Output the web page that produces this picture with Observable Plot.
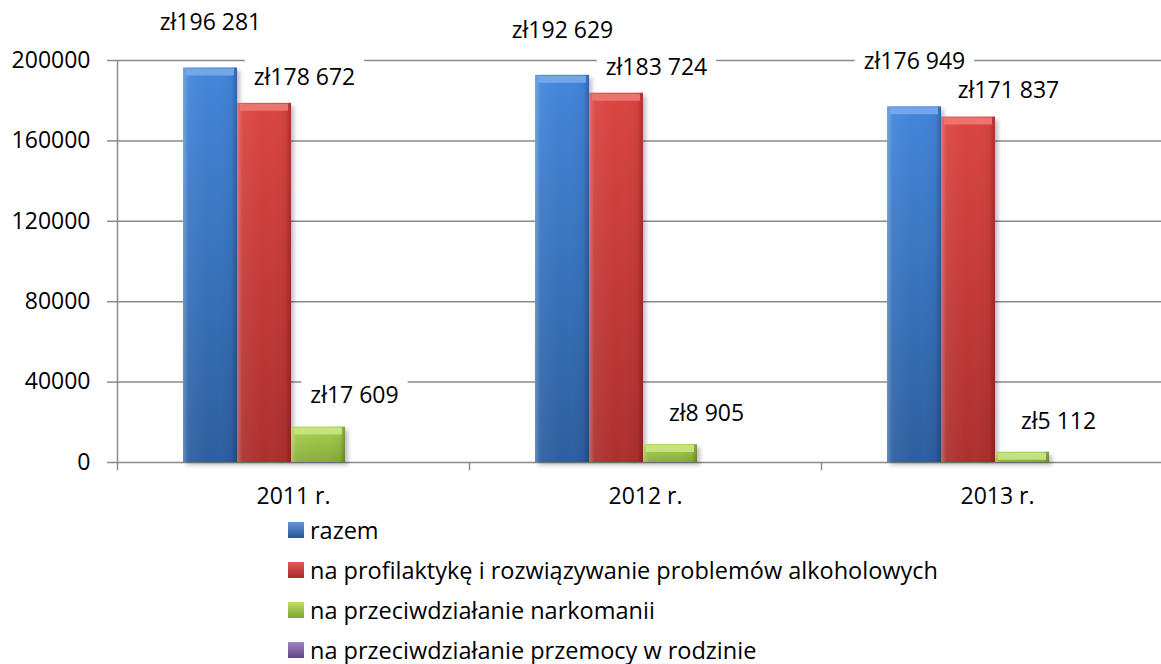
<!DOCTYPE html>
<html><head><meta charset="utf-8">
<script src="https://cdn.jsdelivr.net/npm/d3@7"></script>
<script src="https://cdn.jsdelivr.net/npm/@observablehq/plot@0.6"></script>
<style>
html,body{margin:0;padding:0;background:#fff;overflow:hidden;}
body{font-family:"Open Sans",sans-serif;color:#000;width:1161px;height:664px;position:relative;}
#legend{position:absolute;left:288px;top:510px;font-size:23.5px;}
.li{height:40px;display:flex;align-items:center;white-space:nowrap;}
.sw{width:16px;height:16px;margin-right:6px;box-sizing:border-box;}
</style></head><body>
<svg width="0" height="0" style="position:absolute">
  <defs>
    <linearGradient id="grad0" x1="0" y1="0" x2="0" y2="1">
      <stop offset="0" stop-color="#4386da"/><stop offset="1" stop-color="#2d5f9f"/>
    </linearGradient>
    <linearGradient id="grad1" x1="0" y1="0" x2="0" y2="1">
      <stop offset="0" stop-color="#db4541"/><stop offset="1" stop-color="#ad302e"/>
    </linearGradient>
    <linearGradient id="grad2" x1="0" y1="0" x2="0" y2="1">
      <stop offset="0" stop-color="#a9d253"/><stop offset="1" stop-color="#88ad38"/>
    </linearGradient>
    <linearGradient id="grad3" x1="0" y1="0" x2="0" y2="1">
      <stop offset="0" stop-color="#9175b8"/><stop offset="1" stop-color="#664e8a"/>
    </linearGradient>
    <linearGradient id="shade" x1="0" y1="0" x2="1" y2="0">
      <stop offset="0" stop-color="#fff" stop-opacity="0.28"/>
      <stop offset="0.1" stop-color="#fff" stop-opacity="0.06"/>
      <stop offset="0.5" stop-color="#fff" stop-opacity="0"/>
      <stop offset="0.9" stop-color="#000" stop-opacity="0.04"/>
      <stop offset="1" stop-color="#000" stop-opacity="0.25"/>
    </linearGradient>
  </defs>
</svg>
<div id="chart"></div>
<div id="legend"></div>
<script>
// ---- data ----
const years = ["2011 r.", "2012 r.", "2013 r."];
const series = [
  "razem",
  "na profilaktykę i rozwiązywanie problemów alkoholowych",
  "na przeciwdziałanie narkomanii",
  "na przeciwdziałanie przemocy w rodzinie"
];
const razem = [196281, 192629, 176949];
const alkohol = [178672, 183724, 171837];
const narkomania = [17609, 8905, 5112];
const przemoc = [null, null, null];
const yTicks = [0, 40000, 80000, 120000, 160000, 200000];

// ---- styling ----
const bevel = ["#78aaea", "#ee7873", "#c8e683", "#a990cc"];
const legendCss = [
  "linear-gradient(#5d97e0,#2a5894)",
  "linear-gradient(#e25a55,#a52c2a)",
  "linear-gradient(#bde06a,#7fa332)",
  "linear-gradient(#a184c8,#5f4782)"
];
const gridColor = "#8a8a8a";
const ML = 117, BAR_OFFSET = 66, BAR_W = 54;

const valuesBySeries = [razem, alkohol, narkomania, przemoc];
const rows = [];
years.forEach((year, i) => valuesBySeries.forEach((vals, s) => {
  if (vals[i] != null) rows.push({year, series: series[s], s, value: vals[i]});
}));
const fmt = v => "zł" + d3.format(",")(v).replace(/,/g, " ");
const labelOffsets = [{dx: 0, dy: -45}, {dx: 40, dy: -26}, {dx: 36, dy: -31}];

const plot = Plot.plot({
  width: 1161, height: 512,
  marginLeft: ML, marginRight: -12, marginTop: 60, marginBottom: 50,
  style: {fontFamily: '"Open Sans", sans-serif', fontSize: "23px", color: "black", background: "white"},
  fx: {domain: years, padding: 0, label: null},
  x: {domain: series, range: [ML + BAR_OFFSET, ML + BAR_OFFSET + 4 * BAR_W], padding: 0, axis: null},
  y: {domain: [0, 200000], label: null},
  color: {type: "identity"},
  marks: [
    Plot.ruleY(yTicks, {stroke: gridColor, strokeWidth: 1.5}),
    Plot.ruleX(years, {
      fx: d => d, x: () => series[0],
      y1: (d, i) => i === 0 ? yTicks[yTicks.length - 1] : 0, y2: () => 0,
      dx: -(BAR_OFFSET + BAR_W / 2), insetBottom: -8,
      stroke: gridColor, strokeWidth: 1.5
    }),
    Plot.axisY({ticks: yTicks, tickSize: 10, tickPadding: 17, tickFormat: d => String(d),
      stroke: gridColor, strokeWidth: 1.5, label: null, fontSize: 23}),
    Plot.axisFx({anchor: "bottom", tickSize: 0, tickPadding: 25, label: null, fontSize: 23}),
    Plot.barY(rows, {fx: "year", x: "series", y: "value", fill: d => `url(#grad${d.s})`}),
    Plot.barY(rows, {fx: "year", x: "series", y: "value", fill: "url(#shade)"}),
    Plot.tickY(rows, {fx: "year", x: "series", y: "value", stroke: d => bevel[d.s],
      strokeWidth: 7, dy: 4, insetLeft: 3, insetRight: 3, strokeOpacity: 0.9}),
    ...labelOffsets.map((o, s) => Plot.text(rows.filter(r => r.s === s), {
      fx: "year", x: "series", y: "value", text: d => fmt(d.value),
      dx: o.dx, dy: o.dy, fontSize: 23, fill: "black"
    }))
  ]
});
document.getElementById("chart").append(plot);

// white boxes behind value labels (like the chart's label fill)
const ns = "http://www.w3.org/2000/svg";
plot.querySelectorAll('g[aria-label="text"] text').forEach(t => {
  const b = t.getBBox();
  const r = document.createElementNS(ns, "rect");
  r.setAttribute("x", b.x - 9);
  r.setAttribute("y", b.y - 4);
  r.setAttribute("width", b.width + 18);
  r.setAttribute("height", b.height + 8);
  r.setAttribute("fill", "white");
  const tr = t.getAttribute("transform");
  if (tr) r.setAttribute("transform", tr);
  t.parentNode.insertBefore(r, t);
});
// soft shadow under bars
plot.querySelectorAll('g[aria-label="bar"]').forEach(g => {
  const r = g.querySelector("rect");
  if (r && (r.getAttribute("fill") || "").includes("grad")) g.style.filter = "drop-shadow(3px 3px 2px rgba(0,0,0,0.25))";
});

// legend
const leg = d3.select("#legend");
series.forEach((name, s) => {
  const it = leg.append("div").attr("class", "li");
  it.append("div").attr("class", "sw").style("background", legendCss[s]);
  it.append("span").text(name);
});
</script>
</body></html>
